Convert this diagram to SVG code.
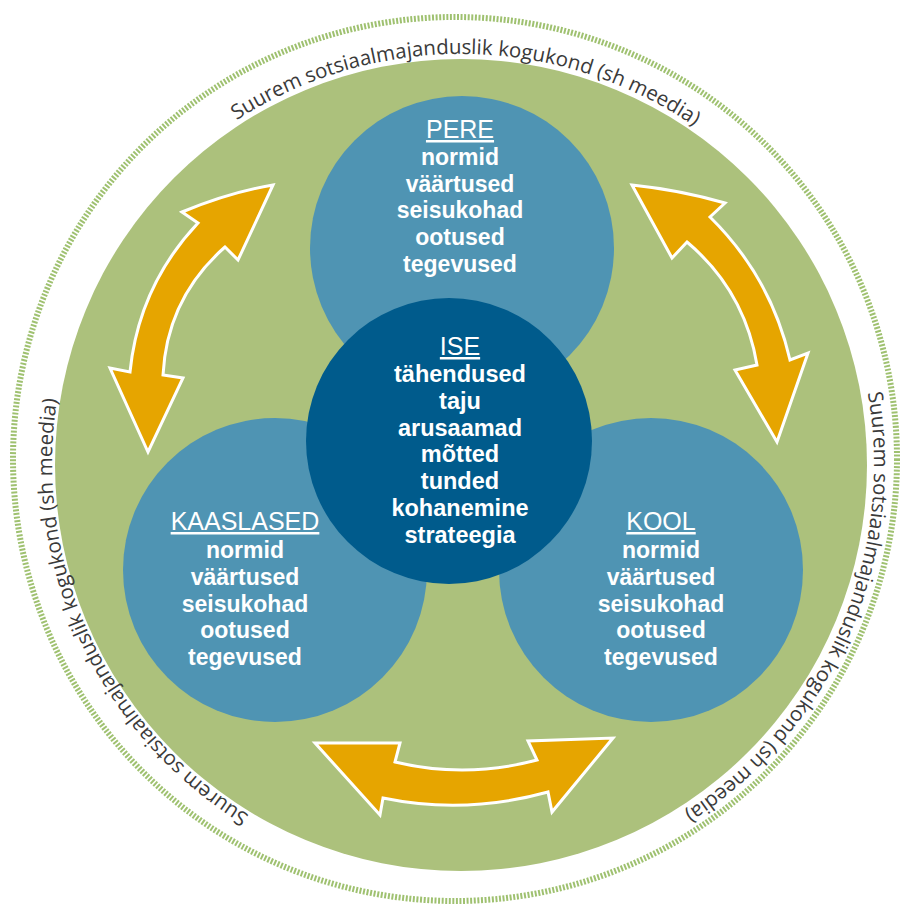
<svg xmlns="http://www.w3.org/2000/svg" width="900" height="913" viewBox="0 0 900 913">
<style>
.ring{font-family:"Open Sans","Liberation Sans",sans-serif;font-size:20.5px;fill:#3a3a3a}
.hd{font-family:"Liberation Sans",Arial,sans-serif;font-size:25px;fill:#ffffff;text-anchor:middle;text-decoration:underline}
.bd{font-family:"Liberation Sans",Arial,sans-serif;font-size:23px;font-weight:bold;fill:#ffffff;text-anchor:middle}
.mid{fill:#4f94b3}
.arrow{fill:#e6a500;stroke:#ffffff;stroke-width:3;stroke-linejoin:miter}
</style>
<defs>
<path id="pTop" d="M 48.04 459.59 A 413 413 0 0 1 873.96 470.41"/>
<path id="pLeft" d="M 634.2 839.9 A 413 413 0 0 1 287.8 90.1"/>
<path id="pRight" d="M 626.3 86.5 A 413 413 0 0 1 295.7 843.5"/>
</defs>
<rect width="900" height="913" fill="#ffffff"/>
<g id="community">
<circle cx="455" cy="459" r="442" fill="none" stroke="#9fc170" stroke-width="6" stroke-dasharray="2 1.6"/>
<circle cx="461" cy="465" r="406" fill="#acc17c"/>
<text class="ring"><textPath href="#pTop" startOffset="50%" text-anchor="middle">Suurem sotsiaalmajanduslik kogukond (sh meedia)</textPath></text>
<text class="ring"><textPath href="#pLeft" startOffset="50%" text-anchor="middle">Suurem sotsiaalmajanduslik kogukond (sh meedia)</textPath></text>
<text class="ring"><textPath href="#pRight" startOffset="50%" text-anchor="middle">Suurem sotsiaalmajanduslik kogukond (sh meedia)</textPath></text>
</g>
<g id="connectors">
<path class="arrow" d="M 273 185 L 238 260 L 225 247 Q 167 298 163 375 L 183 378 L 148 452 L 110 368 L 130 372 Q 138.7 286 198 223 L 182 212 Q 230 192 273 185 Z"/>
<path class="arrow" d="M 632 185 Q 680 190 725 203 L 710 217 Q 771 277 790 360 L 808 353 L 777 442 L 735 370 L 757 365 Q 744.6 290.6 687 242 L 672 258 Z"/>
<path class="arrow" d="M 315 743 L 400 743 L 395 762 Q 466 779 537 760 L 528 741 L 613 738 L 552 812 L 548 792 Q 465 815 383 798 L 380 815 Z"/>
</g>
<g id="pere">
<circle class="mid" cx="462" cy="248" r="152"/>
<text class="hd" x="460" y="138">PERE</text>
<text class="bd" x="460" y="165">normid</text>
<text class="bd" x="460" y="191.7">väärtused</text>
<text class="bd" x="460" y="218.4">seisukohad</text>
<text class="bd" x="460" y="245">ootused</text>
<text class="bd" x="460" y="271.7">tegevused</text>
</g>
<g id="kaaslased">
<circle class="mid" cx="275" cy="570" r="152"/>
<text class="hd" x="245" y="530">KAASLASED</text>
<text class="bd" x="245" y="558">normid</text>
<text class="bd" x="245" y="585">väärtused</text>
<text class="bd" x="245" y="612">seisukohad</text>
<text class="bd" x="245" y="638">ootused</text>
<text class="bd" x="245" y="665">tegevused</text>
</g>
<g id="kool">
<circle class="mid" cx="651" cy="570" r="152"/>
<text class="hd" x="661" y="530">KOOL</text>
<text class="bd" x="661" y="558">normid</text>
<text class="bd" x="661" y="585">väärtused</text>
<text class="bd" x="661" y="612">seisukohad</text>
<text class="bd" x="661" y="638">ootused</text>
<text class="bd" x="661" y="665">tegevused</text>
</g>
<g id="ise">
<circle cx="449" cy="441" r="143" fill="#005b8c"/>
<text class="hd" x="460" y="355">ISE</text>
<text class="bd" x="460" y="382" style="font-size:23.5px">tähendused</text>
<text class="bd" x="460" y="408.7" style="font-size:23.5px">taju</text>
<text class="bd" x="460" y="435.6" style="font-size:23.5px">arusaamad</text>
<text class="bd" x="460" y="462.4" style="font-size:23.5px">mõtted</text>
<text class="bd" x="460" y="489.3" style="font-size:23.5px">tunded</text>
<text class="bd" x="460" y="516.1" style="font-size:23.5px">kohanemine</text>
<text class="bd" x="460" y="543" style="font-size:23.5px">strateegia</text>
</g>
</svg>
